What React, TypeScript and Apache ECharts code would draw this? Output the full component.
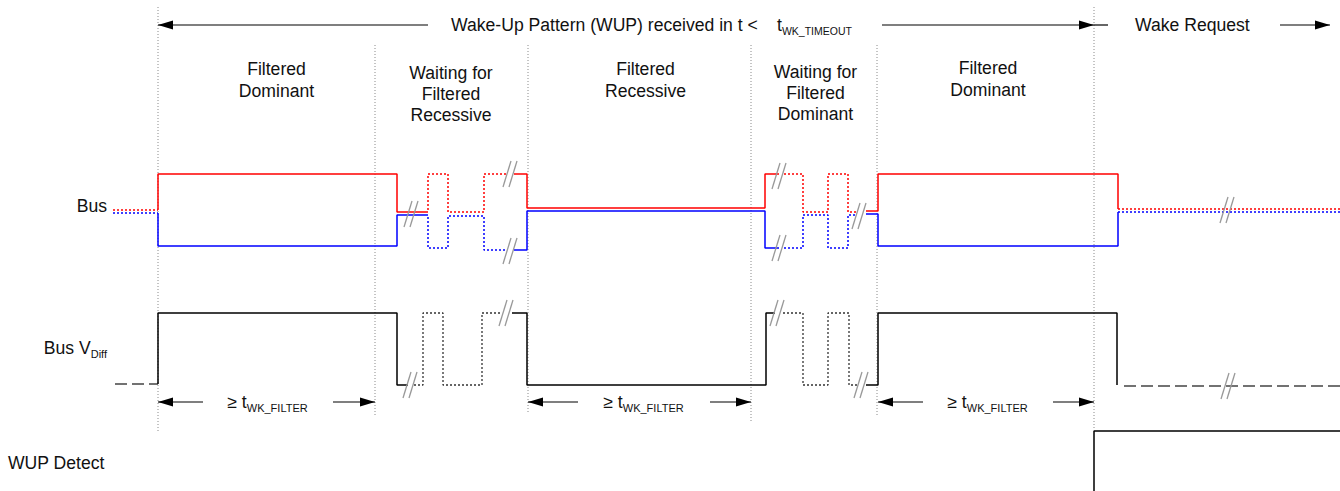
import React, { useEffect, useRef } from "react";
import * as echarts from "echarts";

const W = 1340;
const H = 491;
const FONT = '"Liberation Sans", Arial, Helvetica, sans-serif';
const TXT = "#111";

// Timing diagram: x = time position, y = signal level (screen-like, inverted axis)
const busRedSolid = [
  [[158, 210], [158, 174], [397, 174], [397, 212], [426, 212]],
  [[514, 174], [527, 174], [527, 208], [765, 208], [765, 174], [779, 174]],
  [[866, 211], [878, 211], [878, 174], [1118, 174], [1118, 209]],
];
const busRedDotted = [
  [[113, 210], [158, 210]],
  [[426, 212], [428, 212], [428, 174], [448, 174], [448, 212], [484, 212], [484, 174], [506, 174]],
  [[784, 174], [803, 174], [803, 212], [828, 212], [828, 174], [848, 174], [848, 212], [857, 212]],
  [[1118, 209], [1340, 209]],
];
const busBlueSolid = [
  [[158, 213], [158, 246], [397, 246], [397, 215], [426, 215]],
  [[514, 250], [527, 250], [527, 211], [765, 211], [765, 248], [779, 248]],
  [[866, 214], [878, 214], [878, 246], [1118, 246], [1118, 212]],
];
const busBlueDotted = [
  [[113, 213], [158, 213]],
  [[426, 215], [428, 215], [428, 248], [448, 248], [448, 216], [484, 216], [484, 250], [506, 250]],
  [[784, 248], [803, 248], [803, 215], [828, 215], [828, 248], [848, 248], [848, 215], [857, 215]],
  [[1118, 212], [1340, 212]],
];
const vdiffSolid = [
  [[158, 384], [158, 313], [397, 313], [397, 385], [408, 385]],
  [[512, 313], [527, 313], [527, 385], [766, 385], [766, 313], [775, 313]],
  [[866, 385], [878, 385], [878, 313], [1117, 313], [1117, 385]],
];
const vdiffDotted = [
  [[414, 385], [423, 385], [423, 313], [443, 313], [443, 385], [482, 385], [482, 313], [502, 313]],
  [[783, 313], [803, 313], [803, 385], [828, 385], [828, 313], [849, 313], [849, 385], [858, 385]],
];
const vdiffDashed = [
  [[115, 384], [158, 384]],
  [[1124, 386], [1340, 386]],
];
const wupDetect = [[[1094, 491], [1094, 431], [1340, 431]]];

const breakMarks = [
  [412, 214], [511, 174], [511, 251], [780, 176], [780, 248], [860, 216], [1228, 210],
  [411, 385], [507, 313], [778, 313], [862, 385], [1229, 386],
];

// [x, top, bottom]
const boundaries = [
  [158, 7, 432], [375, 45, 415], [528, 45, 413], [751, 45, 423], [877, 45, 417], [1094, 7, 430],
];

// [x1, x2, y, headAtStart, headAtEnd]
const arrows = [
  [158, 428, 25, 1, 0], [882, 1094, 25, 0, 1], [1094, 1108, 25, 0, 0], [1280, 1330, 25, 0, 1],
  [158, 203, 402, 1, 0], [333, 375, 402, 0, 1],
  [528, 578, 402, 1, 0], [710, 751, 402, 0, 1],
  [878, 923, 402, 1, 0], [1053, 1094, 402, 0, 1],
];

const phaseLabels = [
  { text: "Filtered\nDominant", x: 276.5, y: 80, lh: 22 },
  { text: "Waiting for\nFiltered\nRecessive", x: 451, y: 94, lh: 21 },
  { text: "Filtered\nRecessive", x: 645.5, y: 80, lh: 22 },
  { text: "Waiting for\nFiltered\nDominant", x: 815.5, y: 93, lh: 21 },
  { text: "Filtered\nDominant", x: 988, y: 79, lh: 22 },
];
const filterLabels = [267.5, 643.5, 987.5];

function segSeries(segs: number[][][], color: string, type: any, width: number) {
  return segs.map((pts) => ({
    type: "line",
    data: pts,
    symbol: "none",
    silent: true,
    animation: false,
    lineStyle: { color, width, type },
    z: 3,
  }));
}

const rich = {
  m: { fontSize: 17.6, lineHeight: 22, fontFamily: FONT, color: TXT },
  s: { fontSize: 11, lineHeight: 13, fontFamily: FONT, color: TXT, verticalAlign: "bottom" },
  t: { fontSize: 10.5, lineHeight: 13, fontFamily: FONT, color: TXT, verticalAlign: "bottom" },
};

function richText(text: string, x: number, y: number, align: string) {
  return {
    type: "text",
    x,
    y,
    silent: true,
    style: {
      text,
      rich,
      fill: TXT,
      font: `17.6px ${FONT}`,
      align,
      textAlign: align,
      verticalAlign: "middle",
      textVerticalAlign: "middle",
    },
  };
}

export default function App() {
  const ref = useRef<HTMLDivElement>(null);
  useEffect(() => {
    if (!ref.current) return;
    const chart = echarts.init(ref.current, undefined, { renderer: "svg" });

    const series: any[] = [
      ...boundaries.map((b) => ({
        type: "line",
        data: [[b[0], b[1]], [b[0], b[2]]],
        symbol: "none",
        silent: true,
        lineStyle: { color: "#8a8a8a", width: 1, type: [1, 2] },
        z: 1,
      })),
      ...segSeries(busRedDotted, "#ff0000", [2, 2], 1.5),
      ...segSeries(busBlueDotted, "#0000ff", [2, 2], 1.5),
      ...segSeries(busRedSolid, "#ff0000", "solid", 1.5),
      ...segSeries(busBlueSolid, "#0000ff", "solid", 1.5),
      ...segSeries(vdiffDotted, "#333333", [2, 2], 1.3),
      ...segSeries(vdiffDashed, "#444444", [12, 5], 1.5),
      ...segSeries(vdiffSolid, "#000000", "solid", 1.5),
      ...segSeries(wupDetect, "#000000", "solid", 1.5),
      {
        type: "custom",
        data: breakMarks,
        silent: true,
        z: 5,
        renderItem: (params: any, api: any) => {
          const p = api.coord([api.value(0), api.value(1)]);
          const st = { stroke: "#999999", lineWidth: 1.3 };
          return {
            type: "group",
            children: [
              { type: "line", shape: { x1: p[0] - 8, y1: p[1] + 13, x2: p[0] + 0, y2: p[1] - 13 }, style: st },
              { type: "line", shape: { x1: p[0] - 2, y1: p[1] + 13, x2: p[0] + 6, y2: p[1] - 13 }, style: st },
            ],
          };
        },
      },
      {
        type: "custom",
        data: arrows,
        silent: true,
        z: 5,
        renderItem: (params: any, api: any) => {
          const a = api.coord([api.value(0), api.value(2)]);
          const b = api.coord([api.value(1), api.value(2)]);
          const children: any[] = [
            { type: "line", shape: { x1: a[0], y1: a[1], x2: b[0], y2: b[1] }, style: { stroke: "#000", lineWidth: 1.2 } },
          ];
          if (api.value(3)) {
            children.push({
              type: "polygon",
              shape: { points: [[a[0], a[1]], [a[0] + 15, a[1] - 4.5], [a[0] + 15, a[1] + 4.5]] },
              style: { fill: "#000" },
            });
          }
          if (api.value(4)) {
            children.push({
              type: "polygon",
              shape: { points: [[b[0], b[1]], [b[0] - 15, b[1] - 4.5], [b[0] - 15, b[1] + 4.5]] },
              style: { fill: "#000" },
            });
          }
          return { type: "group", children };
        },
      },
    ];

    const graphics: any[] = [
      ...phaseLabels.map((l) => ({
        type: "text",
        x: l.x,
        y: l.y,
        silent: true,
        style: {
          text: l.text,
          fill: TXT,
          font: `17.6px ${FONT}`,
          fontSize: 17.6,
          fontFamily: FONT,
          lineHeight: l.lh,
          align: "center",
          textAlign: "center",
          verticalAlign: "middle",
          textVerticalAlign: "middle",
        },
      })),
      richText("{m|Wake-Up Pattern (WUP) received in t <}", 451, 25, "left"),
      richText("{m|t}{t|WK_TIMEOUT}", 777, 25, "left"),
      richText("{m|Wake Request}", 1135, 25, "left"),
      richText("{m|Bus}", 107, 206, "right"),
      richText("{m|Bus V}{s|Diff}", 107, 348, "right"),
      richText("{m|WUP Detect}", 8, 463, "left"),
      ...filterLabels.map((x) => richText("{m|≥ t}{s|WK_FILTER}", x, 402, "center")),
    ];

    chart.setOption({
      animation: false,
      backgroundColor: "#ffffff",
      grid: { left: 0, right: 0, top: 0, bottom: 0 },
      xAxis: { type: "value", min: 0, max: W, show: false },
      yAxis: { type: "value", min: 0, max: H, inverse: true, show: false },
      series,
      graphic: graphics,
    });
    return () => chart.dispose();
  }, []);

  return (
    <div
      ref={ref}
      style={{ position: "absolute", left: 0, top: 0, width: W, height: H, background: "#fff" }}
    />
  );
}
